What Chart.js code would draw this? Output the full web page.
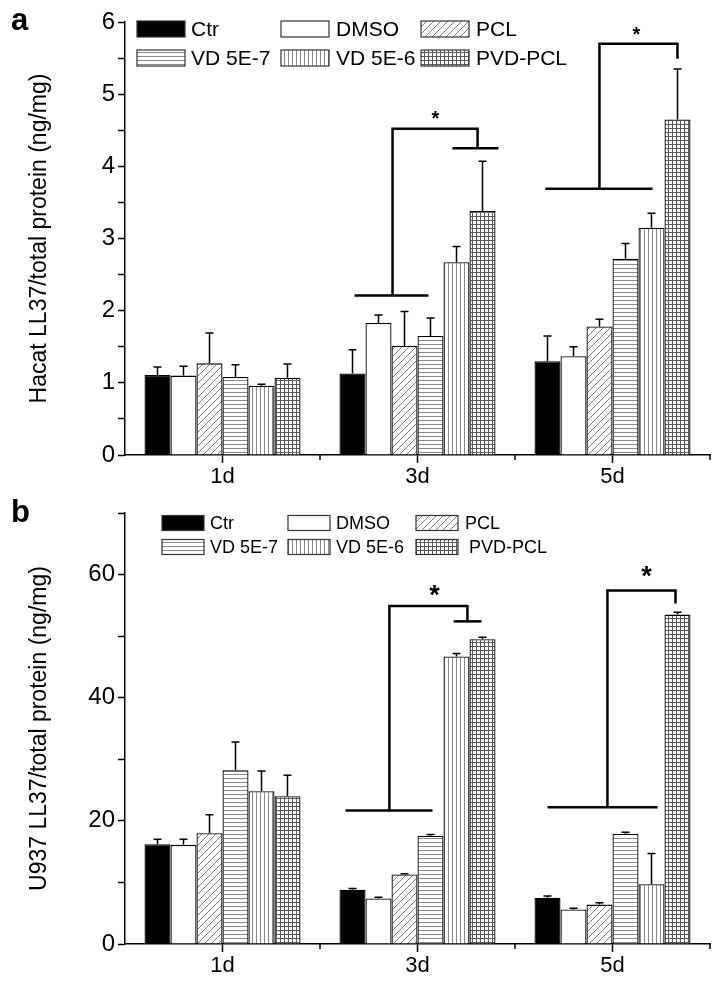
<!DOCTYPE html>
<html>
<head>
<meta charset="utf-8">
<script src="https://cdn.jsdelivr.net/npm/chart.js@4.4.1/dist/chart.umd.min.js"></script>
<style>
  body { margin: 0; background: #fff; }
  #wrap { position: relative; width: 719px; height: 985px; }
  canvas { position: absolute; left: 0; }
</style>
</head>
<body>
<div id="wrap">
  <canvas id="chartA" width="719" height="490" style="top:0"></canvas>
  <canvas id="chartB" width="719" height="495" style="top:490px"></canvas>
</div>
<script>
// categories and groups
const days = ['1d', '3d', '5d'];
const groups = ['Ctr', 'DMSO', 'PCL', 'VD 5E-7', 'VD 5E-6', 'PVD-PCL'];

// panel a: Hacat LL37 (ng/mg), mean and upper error per day
const hacatCtr = [1.11, 1.13, 1.30];
const hacatDmso = [1.10, 1.83, 1.37];
const hacatPcl = [1.27, 1.51, 1.78];
const hacatVd7 = [1.08, 1.65, 2.72];
const hacatVd6 = [0.96, 2.67, 3.15];
const hacatPvd = [1.07, 3.38, 4.65];
const hacatCtrErr = [0.11, 0.33, 0.35];
const hacatDmsoErr = [0.13, 0.11, 0.13];
const hacatPclErr = [0.42, 0.48, 0.10];
const hacatVd7Err = [0.17, 0.25, 0.21];
const hacatVd6Err = [0.02, 0.22, 0.20];
const hacatPvdErr = [0.19, 0.69, 0.70];

// panel b: U937 LL37 (ng/mg)
const u937Ctr = [16.2, 8.8, 7.5];
const u937Dmso = [16.1, 7.4, 5.6];
const u937Pcl = [18.0, 11.3, 6.4];
const u937Vd7 = [28.2, 17.6, 17.9];
const u937Vd6 = [24.8, 46.7, 9.7];
const u937Pvd = [24.0, 49.5, 53.5];
const u937CtrErr = [0.8, 0.2, 0.3];
const u937DmsoErr = [0.9, 0.2, 0.2];
const u937PclErr = [3.0, 0.1, 0.3];
const u937Vd7Err = [4.6, 0.2, 0.25];
const u937Vd6Err = [3.3, 0.5, 5.0];
const u937PvdErr = [3.4, 0.3, 0.4];

// y axis ticks
const hacatTicks = [0, 1, 2, 3, 4, 5, 6];
const u937Ticks = [0, 20, 40, 60];

// significance brackets: day index, polylines as [offset in categories, value]
const hacatBrackets = [
  { day: 1, star: [0.092, 4.72], lines: [
    [[-0.323, 2.21], [0.056, 2.21]],
    [[-0.128, 2.21], [-0.128, 4.52], [0.308, 4.52], [0.308, 4.25]],
    [[0.179, 4.25], [0.415, 4.25]]
  ] },
  { day: 2, star: [0.123, 5.88], lines: [
    [[-0.344, 3.69], [0.205, 3.69]],
    [[-0.067, 3.69], [-0.067, 5.70], [0.333, 5.70], [0.333, 5.49]]
  ] }
];
const u937Brackets = [
  { day: 1, star: [0.087, 57.6], lines: [
    [[-0.369, 21.7], [0.077, 21.7]],
    [[-0.144, 21.7], [-0.144, 54.9], [0.256, 54.9], [0.256, 52.4]],
    [[0.185, 52.4], [0.328, 52.4]]
  ] },
  { day: 2, star: [0.174, 60.6], lines: [
    [[-0.333, 22.2], [0.231, 22.2]],
    [[-0.026, 22.2], [-0.026, 57.4], [0.323, 57.4], [0.323, 55.3]]
  ] }
];

const FONT = '"Liberation Sans", Arial, sans-serif';

function makeFill(kind) {
  if (kind === 'solid') return '#000';
  if (kind === 'none') return '#fff';
  const c = document.createElement('canvas');
  const g = c.getContext('2d');
  if (kind === 'diag') {
    c.width = 7; c.height = 7;
    g.fillStyle = '#fff'; g.fillRect(0, 0, 7, 7);
    g.strokeStyle = '#7a7a7a'; g.lineWidth = 1;
    g.beginPath();
    g.moveTo(0, 7); g.lineTo(7, 0);
    g.moveTo(-1, 1); g.lineTo(1, -1);
    g.moveTo(6, 8); g.lineTo(8, 6);
    g.stroke();
  } else {
    c.width = 4; c.height = 4;
    g.fillStyle = '#fff'; g.fillRect(0, 0, 4, 4);
    g.fillStyle = kind === 'grid' ? '#5a5a5a' : '#8a8a8a';
    if (kind === 'horiz' || kind === 'grid') g.fillRect(0, 0, 4, 1);
    if (kind === 'vert' || kind === 'grid') g.fillRect(0, 0, 1, 4);
  }
  return g.createPattern(c, 'repeat');
}

const fills = ['solid', 'none', 'diag', 'horiz', 'vert', 'grid'].map(makeFill);

function makePanel(canvasId, series, errors, ticks, yMax, step, yTitle, brackets, look) {
  const datasets = groups.map((name, i) => ({
    label: name,
    data: series[i],
    errors: errors[i],
    backgroundColor: fills[i],
    borderColor: '#000',
    borderWidth: 1.3,
    borderSkipped: 'bottom',
    categoryPercentage: 0.8,
    barPercentage: 1.0
  }));

  const extras = {
    id: 'extras',
    afterDatasetsDraw(chart) {
      const ctx = chart.ctx;
      const x = chart.scales.x, y = chart.scales.y;
      ctx.save();
      // error bars (upper only)
      ctx.strokeStyle = '#000';
      ctx.lineWidth = 1.5;
      chart.data.datasets.forEach((ds, i) => {
        chart.getDatasetMeta(i).data.forEach((bar, j) => {
          const top = y.getPixelForValue(ds.data[j] + ds.errors[j]);
          ctx.beginPath();
          ctx.moveTo(bar.x, bar.y);
          ctx.lineTo(bar.x, top);
          ctx.moveTo(bar.x - 4, top);
          ctx.lineTo(bar.x + 4, top);
          ctx.stroke();
        });
      });
      // brackets
      ctx.lineWidth = 2.5;
      ctx.lineJoin = 'miter';
      brackets.forEach(b => {
        b.lines.forEach(pl => {
          ctx.beginPath();
          pl.forEach((p, k) => {
            const px = x.getPixelForValue(b.day + p[0]);
            const py = y.getPixelForValue(p[1]);
            if (k === 0) ctx.moveTo(px, py); else ctx.lineTo(px, py);
          });
          ctx.stroke();
        });
        ctx.fillStyle = '#000';
        ctx.font = 'bold ' + look.starSize + 'px ' + FONT;
        ctx.textAlign = 'center';
        ctx.textBaseline = 'middle';
        ctx.fillText('*', x.getPixelForValue(b.day + b.star[0]), y.getPixelForValue(b.star[1]) + look.starSize * 0.25);
      });
      // small ticks between categories
      ctx.lineWidth = 1.5;
      for (let i = 1; i <= days.length; i++) {
        const px = x.getPixelForValue(i - 0.5);
        ctx.beginPath();
        ctx.moveTo(px, y.bottom);
        ctx.lineTo(px, y.bottom + 5);
        ctx.stroke();
      }
      // legend
      ctx.font = look.legendFont + 'px ' + FONT;
      ctx.textAlign = 'left';
      ctx.textBaseline = 'middle';
      groups.forEach((name, i) => {
        const bx = look.legendCols[i % 3];
        const by = look.legendRows[Math.floor(i / 3)];
        ctx.fillStyle = fills[i];
        ctx.fillRect(bx, by - look.boxH / 2, look.boxW, look.boxH);
        ctx.lineWidth = 1.2;
        ctx.strokeStyle = '#333';
        ctx.strokeRect(bx, by - look.boxH / 2, look.boxW, look.boxH);
        ctx.fillStyle = '#000';
        ctx.fillText(name, bx + look.boxW + look.textGap[i], by + 1);
      });
      // panel letter
      ctx.font = 'bold 31px ' + FONT;
      ctx.textBaseline = 'alphabetic';
      ctx.fillText(look.letter, 11, look.letterY);
      ctx.restore();
    }
  };

  return new Chart(document.getElementById(canvasId), {
    type: 'bar',
    data: { labels: days, datasets: datasets },
    options: {
      responsive: false,
      animation: false,
      layout: { padding: { top: look.top, right: 9, left: 0, bottom: 0 } },
      plugins: { legend: { display: false }, tooltip: { enabled: false } },
      scales: {
        x: {
          grid: { display: true, drawOnChartArea: false, offset: false, tickLength: 8, tickColor: '#000', tickWidth: 1.5 },
          border: { display: true, color: '#000', width: 1.5 },
          ticks: { color: '#000', padding: 1, font: { family: FONT, size: 22 } },
          afterFit(scale) { scale.height = look.xHeight; }
        },
        y: {
          min: 0,
          max: yMax,
          grid: { display: true, drawOnChartArea: false, tickLength: 7, tickColor: '#000', tickWidth: 1.5 },
          border: { display: true, color: '#000', width: 1.5 },
          ticks: {
            stepSize: step,
            color: '#000',
            padding: 3,
            font: { family: FONT, size: 24 },
            callback: v => ticks.includes(v) ? String(v) : ''
          },
          title: { display: true, text: yTitle, color: '#000', font: { family: FONT, size: 23 }, padding: { top: 26, bottom: 0 } },
          afterFit(scale) { scale.width = 125; }
        }
      }
    },
    plugins: [extras]
  });
}

makePanel('chartA',
  [hacatCtr, hacatDmso, hacatPcl, hacatVd7, hacatVd6, hacatPvd],
  [hacatCtrErr, hacatDmsoErr, hacatPclErr, hacatVd7Err, hacatVd6Err, hacatPvdErr],
  hacatTicks, 6, 0.5, 'Hacat LL37/total protein (ng/mg)', hacatBrackets,
  { top: 22, xHeight: 35, starSize: 20, legendFont: 21, boxW: 48, boxH: 16,
    legendCols: [137, 281, 421], legendRows: [29, 58], textGap: [6, 7, 7, 6, 7, 7],
    letter: 'a', letterY: 30 });

makePanel('chartB',
  [u937Ctr, u937Dmso, u937Pcl, u937Vd7, u937Vd6, u937Pvd],
  [u937CtrErr, u937DmsoErr, u937PclErr, u937Vd7Err, u937Vd6Err, u937PvdErr],
  u937Ticks, 70, 10, 'U937 LL37/total protein (ng/mg)', u937Brackets,
  { top: 23, xHeight: 41, starSize: 27, legendFont: 18, boxW: 42, boxH: 15,
    legendCols: [162, 288, 416], legendRows: [33, 57], textGap: [6, 6, 7, 6, 6, 11],
    letter: 'b', letterY: 32 });
</script>
</body>
</html>
